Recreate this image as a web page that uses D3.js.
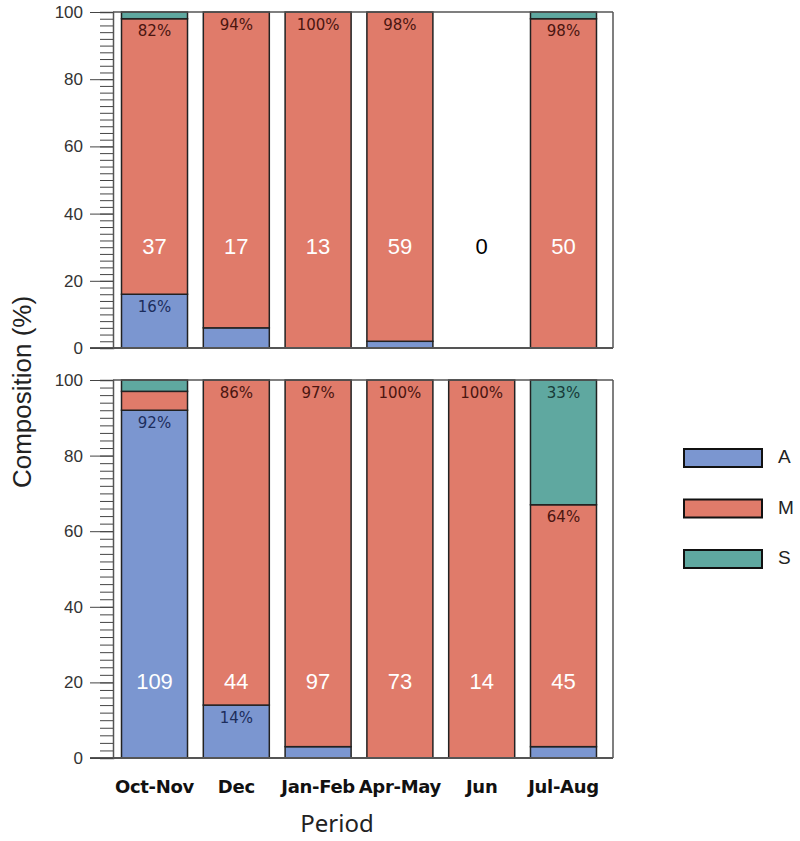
<!DOCTYPE html>
<html><head><meta charset="utf-8">
<script src="https://cdn.jsdelivr.net/npm/d3@7"></script>
<style>body{margin:0;background:#fff}svg{display:block}</style>
</head><body>
<script>
const periods = ["Oct-Nov","Dec","Jan-Feb","Apr-May","Jun","Jul-Aug"];
const seriesNames = ["A","M","S"];
const seriesColors = ["#7b96d0","#e07b6a","#5fa8a0"];
const labelColors = ["#1c2d5c","#4a1510","#173a38"];
// top panel
const topA = [16,6,0,2,0,0];
const topM = [82,94,100,98,0,98];
const topS = [2,0,0,0,0,2];
const topCounts = [37,17,13,59,0,50];
// bottom panel
const botA = [92,14,3,0,0,3];
const botM = [5,86,97,100,100,64];
const botS = [3,0,0,0,0,33];
const botCounts = [109,44,97,73,14,45];
const yTicks = [0,20,40,60,80,100];

const W=800,H=841;
const svg=d3.select("body").append("svg").attr("width",W).attr("height",H);
const x=d3.scaleBand().domain(periods).range([113,605]).paddingInner(0.193).paddingOuter(0.104);
const frameL=113, frameR=613;

function panel(A,M,S,counts,yTop,yBot,countAt){
  const y=d3.scaleLinear().domain([0,100]).range([yBot,yTop]);
  const g=svg.append("g");
  const rows=periods.map((p,i)=>({p,A:A[i],M:M[i],S:S[i],n:counts[i]}));
  const stacked=d3.stack().keys(seriesNames)(rows);
  stacked.forEach((layer,si)=>{
    layer.forEach((d,i)=>{
      const v=d[1]-d[0];
      if(v<=0) return;
      g.append("rect").attr("x",x(rows[i].p)).attr("width",x.bandwidth())
        .attr("y",y(d[1])).attr("height",y(d[0])-y(d[1]))
        .attr("fill",seriesColors[si]).attr("stroke","#222").attr("stroke-width",1.5);
    });
  });
  stacked.forEach((layer,si)=>{
    layer.forEach((d,i)=>{
      const v=d[1]-d[0];
      if(v<10) return;
      g.append("text").attr("x",x(rows[i].p)+x.bandwidth()/2).attr("y",y(d[1])+13)
        .attr("text-anchor","middle").attr("dominant-baseline","middle")
        .attr("font-family","DejaVu Sans").attr("font-size",15)
        .attr("fill",labelColors[si]).text(v+"%");
    });
  });
  rows.forEach(r=>{
    g.append("text").attr("x",x(r.p)+x.bandwidth()/2).attr("y",y(countAt)+1)
      .attr("text-anchor","middle").attr("dominant-baseline","middle")
      .attr("font-family","Liberation Sans, Arial").attr("font-size",22)
      .attr("fill",(r.A+r.M+r.S)>0?"#fff":"#000").text(r.n);
  });
  // frame
  const fc="#555";
  g.append("line").attr("x1",frameL).attr("x2",frameR).attr("y1",yTop).attr("y2",yTop).attr("stroke",fc).attr("stroke-width",1.5);
  g.append("line").attr("x1",frameR).attr("x2",frameR).attr("y1",yTop).attr("y2",yBot).attr("stroke",fc).attr("stroke-width",1.5);
  g.append("line").attr("x1",90).attr("x2",frameR).attr("y1",yBot).attr("y2",yBot).attr("stroke",fc).attr("stroke-width",2);
  // axes
  const minor=d3.range(0,101,2);
  const ax1=g.append("g").attr("transform",`translate(${frameL},0)`)
    .call(d3.axisLeft(y).tickValues(minor).tickSize(13).tickFormat(""));
  ax1.select(".domain").attr("stroke",fc).attr("stroke-width",1.5);
  ax1.selectAll(".tick line").attr("stroke","#444");
  const ax2=g.append("g").attr("transform",`translate(${frameL},0)`)
    .call(d3.axisLeft(y).tickValues(yTicks).tickSize(23).tickPadding(7));
  ax2.select(".domain").remove();
  ax2.selectAll(".tick line").attr("stroke","#444");
  ax2.selectAll(".tick text").attr("font-family","Liberation Sans, Arial").attr("font-size",17).attr("fill","#333");
}
panel(topA,topM,topS,topCounts,12,348,30);
panel(botA,botM,botS,botCounts,380,758,20);

// x labels
periods.forEach(p=>{
  svg.append("text").attr("x",x(p)+x.bandwidth()/2).attr("y",793)
    .attr("text-anchor","middle").attr("font-family","DejaVu Sans").attr("font-weight","bold")
    .attr("font-size",18).attr("letter-spacing",-0.3).attr("fill","#111").text(p);
});
svg.append("text").attr("x",337).attr("y",832).attr("text-anchor","middle")
  .attr("font-family","Noto Sans").attr("font-size",24).attr("fill","#222").text("Period");
svg.append("text").attr("transform","translate(31,392) rotate(-90)").attr("text-anchor","middle")
  .attr("font-family","Liberation Sans, Arial").attr("font-size",26).attr("fill","#222").text("Composition (%)");

// legend
seriesNames.forEach((s,i)=>{
  const ly=449+i*50.5;
  svg.append("rect").attr("x",684).attr("y",ly).attr("width",78).attr("height",18)
    .attr("fill",seriesColors[i]).attr("stroke","#111").attr("stroke-width",2);
  svg.append("text").attr("x",778).attr("y",ly+9).attr("dominant-baseline","middle")
    .attr("font-family","Liberation Sans, Arial").attr("font-size",19).attr("fill","#222").text(s);
});
</script>
</body></html>
